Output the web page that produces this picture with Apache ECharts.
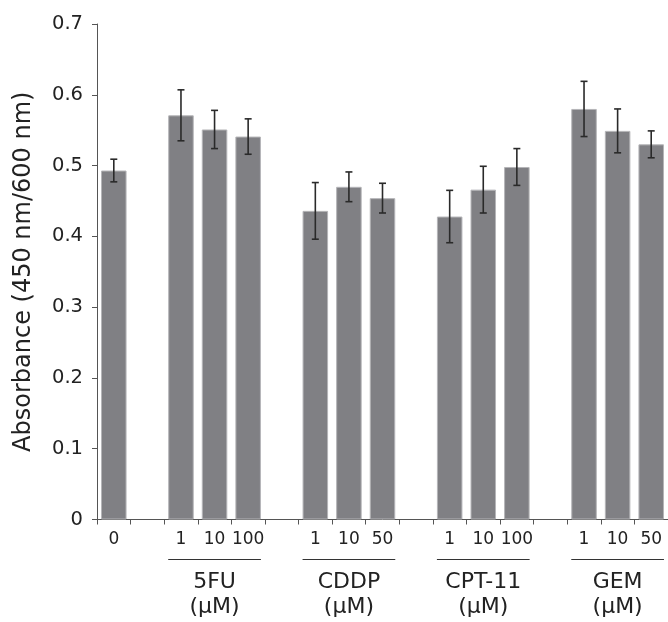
<!DOCTYPE html>
<html>
<head>
<meta charset="utf-8">
<script src="https://cdn.jsdelivr.net/npm/echarts@6/dist/echarts.min.js"></script>
<style>html,body{margin:0;padding:0;background:#fff;}#c{width:668px;height:622px;}</style>
</head>
<body>
<div id="c"></div>
<script>
const categories = ['0','','1','10','100','','1','10','50','','1','10','100','','1','10','50'];
const means  = [0.493,null,0.571,0.551,0.541,null,0.436,0.470,0.454,null,0.428,0.466,0.498,null,0.580,0.549,0.530];
const errors = [0.016,null,0.036,0.027,0.025,null,0.040,0.021,0.021,null,0.037,0.033,0.026,null,0.039,0.031,0.019];
const groupNames = ['5FU','CDDP','CPT-11','GEM'];
const groupStart = [2,6,10,14];
const groupEnd   = [4,8,12,16];
const yTicks = [0,0.1,0.2,0.3,0.4,0.5,0.6,0.7];

const FONT = 'DejaVu Sans';
const errData = [];
means.forEach((m,i)=>{ if(m!=null) errData.push([i,m,errors[i]]); });
const grpData = groupNames.map((n,i)=>[groupStart[i],groupEnd[i],n]);

const chart = echarts.init(document.getElementById('c'));
chart.setOption({
  animation:false,
  grid:{left:97, top:24, width:583, height:495.5},
  xAxis:{
    type:'category', data:categories, boundaryGap:true,
    axisLine:{lineStyle:{color:'#555',width:1}},
    axisTick:{show:true, length:5, interval:0, lineStyle:{color:'#555'}},
    axisLabel:{interval:0, margin:12, fontSize:17, fontFamily:FONT, color:'#222'}
  },
  yAxis:{
    type:'value', min:0, max:0.7, interval:0.1,
    name:'Absorbance (450 nm/600 nm)', nameLocation:'middle', nameGap:61,
    nameTextStyle:{fontSize:24, fontFamily:FONT, color:'#222'},
    axisLine:{show:true, lineStyle:{color:'#555',width:1}},
    axisTick:{show:true, length:5, lineStyle:{color:'#555'}},
    splitLine:{show:false},
    axisLabel:{margin:14, fontSize:19.5, fontFamily:FONT, color:'#222',
      formatter:v=>{ const t=yTicks.find(x=>Math.abs(x-v)<1e-9); return t===0?'0':(t!=null?t.toFixed(1):''); }}
  },
  series:[
    {type:'bar', data:means, barWidth:'76%',
     itemStyle:{color:'#808084', borderColor:'#b5b5b8', borderWidth:1}},
    {type:'custom', data:errData, clip:false, z:10,
     renderItem:(params,api)=>{
       const x=api.value(0), m=api.value(1), e=api.value(2);
       const top=api.coord([x,m+e]), bot=api.coord([x,m-e]);
       const h=3.5;
       const st={stroke:'#2a2a2a', lineWidth:1.6};
       return {type:'group', children:[
         {type:'line', shape:{x1:top[0],y1:top[1],x2:bot[0],y2:bot[1]}, style:st},
         {type:'line', shape:{x1:top[0]-h,y1:top[1],x2:top[0]+h,y2:top[1]}, style:st},
         {type:'line', shape:{x1:bot[0]-h,y1:bot[1],x2:bot[0]+h,y2:bot[1]}, style:st}
       ]};
     }},
    {type:'custom', data:grpData, clip:false, silent:true,
     encode:{x:0},
     renderItem:(params,api)=>{
       const s=api.value(0), e=api.value(1), name=grpData[params.dataIndex][2];
       const p0=api.coord([s,0]), p1=api.coord([e,0]);
       const band=api.size([1,0])[0];
       const xl=p0[0]-band*0.38, xr=p1[0]+band*0.38;
       const cx=(p0[0]+p1[0])/2, y0=p0[1];
       return {type:'group', children:[
         {type:'line', shape:{x1:xl,y1:y0+40,x2:xr,y2:y0+40}, style:{stroke:'#333', lineWidth:1.2}},
         {type:'text', style:{text:name, x:cx, y:y0+63, align:'center', verticalAlign:'middle', fontSize:22, fontFamily:FONT, fill:'#222'}},
         {type:'text', style:{text:'(μM)', x:cx, y:y0+88, align:'center', verticalAlign:'middle', fontSize:22, fontFamily:FONT, fill:'#222'}}
       ]};
     }}
  ]
});
</script>
</body>
</html>
